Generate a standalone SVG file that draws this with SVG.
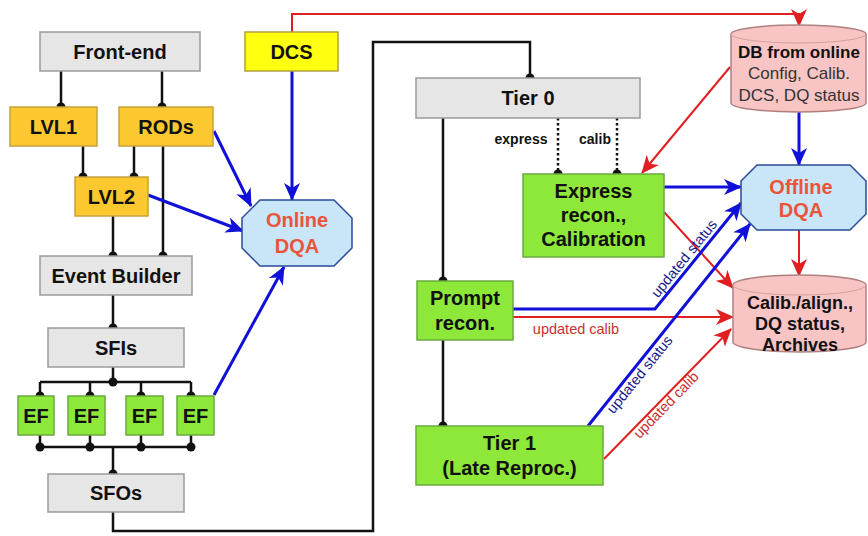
<svg xmlns="http://www.w3.org/2000/svg" width="868" height="536" viewBox="0 0 868 536">
<style>
text{font-family:"Liberation Sans",Arial,sans-serif}
.lbl{font-size:20px;font-weight:bold;fill:#111;text-anchor:middle}
.gray{fill:#e6e6e6;stroke:#9a9a9a;stroke-width:1.5}
.orange{fill:#fcc830;stroke:#c8a040;stroke-width:1.5}
.yellow{fill:#ffff10;stroke:#b0a040;stroke-width:1.5}
.green{fill:#8ee83a;stroke:#6aaa40;stroke-width:1.5}
.oct{fill:#c8e6f8;stroke:#2a4a9a;stroke-width:1.5}
.cyl{fill:#f8c4c4;stroke:#b08080;stroke-width:1.5}
.dqa{font-size:20px;font-weight:bold;fill:#e8553a;text-anchor:middle}
.blk{fill:none;stroke:#111;stroke-width:2.5}
.dot{fill:none;stroke:#111;stroke-width:2.5;stroke-dasharray:2.5,2.5}
.blue{fill:none;stroke:#1010d8;stroke-width:3}
.red{fill:none;stroke:#e02020;stroke-width:2}
.small{font-size:14px;font-weight:bold;fill:#111;text-anchor:middle}
.ublue{font-size:14.5px;fill:#1a1a8c;text-anchor:middle}
.ured{font-size:14.5px;fill:#c83030;text-anchor:middle}
</style>
<defs>
<marker id="hd" markerUnits="userSpaceOnUse" viewBox="-6 -6 12 12" markerWidth="12" markerHeight="12" refX="0" refY="0" orient="auto">
<path d="M0,-4.5 A4.5,4.5 0 0 0 0,4.5 Z" fill="#111"/>
</marker>
<marker id="ba" markerUnits="userSpaceOnUse" viewBox="0 0 18 16" markerWidth="18" markerHeight="16" refX="17" refY="8" orient="auto">
<path d="M0,0 L18,8 L0,16 L5,8 Z" fill="#1010d8"/>
</marker>
<marker id="ra" markerUnits="userSpaceOnUse" viewBox="0 0 18 16" markerWidth="18" markerHeight="16" refX="17" refY="8" orient="auto">
<path d="M0,0 L18,8 L0,16 L5,8 Z" fill="#e02020"/>
</marker>
</defs>

<g id="connectors">
<!-- black data flow -->
<path class="blk" d="M61,71 V107" marker-end="url(#hd)"/>
<path class="blk" d="M162,71 V107" marker-end="url(#hd)"/>
<path class="blk" d="M83,146 V177" marker-end="url(#hd)"/>
<path class="blk" d="M134,146 V177" marker-end="url(#hd)"/>
<path class="blk" d="M163,146 V256" marker-end="url(#hd)"/>
<path class="blk" d="M113,216 V256" marker-end="url(#hd)"/>
<path class="blk" d="M113,295 V328" marker-end="url(#hd)"/>
<path class="blk" d="M113,367 V382 M40,382 H191"/>
<circle cx="113" cy="382" r="4.5" fill="#111"/>
<path class="blk" d="M40,382 V396" marker-end="url(#hd)"/>
<path class="blk" d="M90,382 V396" marker-end="url(#hd)"/>
<path class="blk" d="M141,382 V396" marker-end="url(#hd)"/>
<path class="blk" d="M191,382 V396" marker-end="url(#hd)"/>
<path class="blk" d="M40,435 V447 M90,435 V447 M141,435 V447 M191,435 V447 M40,447 H191"/>
<circle cx="40" cy="447" r="4.5" fill="#111"/>
<circle cx="90" cy="447" r="4.5" fill="#111"/>
<circle cx="141" cy="447" r="4.5" fill="#111"/>
<circle cx="191" cy="447" r="4.5" fill="#111"/>
<path class="blk" d="M113,447 V474" marker-end="url(#hd)"/>
<path class="blk" d="M113,512 V531 H373 V42 H530 V78" marker-end="url(#hd)"/>
<path class="blk" d="M443,118 V281" marker-end="url(#hd)"/>
<path class="blk" d="M443,340 V426" marker-end="url(#hd)"/>
<path class="dot" d="M558,118 V174" marker-end="url(#hd)"/>
<path class="dot" d="M617,118 V174" marker-end="url(#hd)"/>
<text class="small" x="521" y="144">express</text>
<text class="small" x="595" y="144">calib</text>

<!-- blue to online DQA -->
<path class="blue" d="M214,131 L251,206" marker-end="url(#ba)"/>
<path class="blue" d="M148,195 L243,231" marker-end="url(#ba)"/>
<path class="blue" d="M292,71 V200" marker-end="url(#ba)"/>
<path class="blue" d="M214,395 L284,267" marker-end="url(#ba)"/>

<!-- DCS to DB -->
<path class="red" d="M292,32 V14 H799 V26" marker-end="url(#ra)"/>

<!-- right side -->
<path class="red" d="M730,67 L642,173" marker-end="url(#ra)"/>
<path class="blue" d="M799,112 V165" marker-end="url(#ba)"/>
<path class="red" d="M799,230 V276" marker-end="url(#ra)"/>
<path class="blue" d="M664,187 H741" marker-end="url(#ba)"/>
<path class="red" d="M664,212 L733,288" marker-end="url(#ra)"/>
<path class="blue" d="M513,309 H655 L741,203" marker-end="url(#ba)"/>
<path class="red" d="M513,317 H733" marker-end="url(#ra)"/>
<path class="blue" d="M588,426 L750,224" marker-end="url(#ba)"/>
<path class="red" d="M604,459 L731,329" marker-end="url(#ra)"/>

<text class="ublue" transform="translate(691,264) rotate(-51)" x="0" y="-4">updated status</text>
<text class="ublue" transform="translate(633,369) rotate(-51)" x="0" y="13.5">updated status</text>
<text class="ured" transform="translate(661,400) rotate(-45.7)" x="0" y="12">updated calib</text>
<text class="ured" x="576" y="334">updated calib</text>
</g>

<g id="frontend"><rect class="gray" x="40" y="32" width="160" height="39"/><text class="lbl" x="120" y="58.5">Front-end</text></g>
<g id="dcs"><rect class="yellow" x="245" y="32" width="93" height="39"/><text class="lbl" x="291.5" y="58.5">DCS</text></g>
<g id="lvl1"><rect class="orange" x="10" y="107" width="87" height="39"/><text class="lbl" x="53.5" y="133.5">LVL1</text></g>
<g id="rods"><rect class="orange" x="119" y="107" width="94" height="39"/><text class="lbl" x="166" y="133.5">RODs</text></g>
<g id="lvl2"><rect class="orange" x="75" y="177" width="73" height="39"/><text class="lbl" x="111.5" y="203.5">LVL2</text></g>
<g id="eventbuilder"><rect class="gray" x="40" y="256" width="152" height="39"/><text class="lbl" x="116" y="282.5">Event Builder</text></g>
<g id="sfis"><rect class="gray" x="48" y="328" width="136" height="39"/><text class="lbl" x="116" y="354.5">SFIs</text></g>
<g id="ef1"><rect class="green" x="18" y="396" width="36" height="39"/><text class="lbl" x="36" y="422.5">EF</text></g>
<g id="ef2"><rect class="green" x="68" y="396" width="37" height="39"/><text class="lbl" x="86.5" y="422.5">EF</text></g>
<g id="ef3"><rect class="green" x="126" y="396" width="37" height="39"/><text class="lbl" x="144.5" y="422.5">EF</text></g>
<g id="ef4"><rect class="green" x="177" y="396" width="37" height="39"/><text class="lbl" x="195.5" y="422.5">EF</text></g>
<g id="sfos"><rect class="gray" x="48" y="474" width="136" height="38"/><text class="lbl" x="116" y="500">SFOs</text></g>

<g id="onlinedqa"><path class="oct" d="M260,200 H334 L352,218 V248 L334,266 H260 L242,248 V218 Z"/><text class="dqa" x="297" y="227">Online</text><text class="dqa" x="297" y="253">DQA</text></g>

<g id="tier0"><rect class="gray" x="416" y="78" width="224" height="40"/><text class="lbl" x="528" y="105">Tier 0</text></g>
<g id="express"><rect class="green" x="523" y="174" width="141" height="83"/><text class="lbl" x="593.5" y="198">Express</text><text class="lbl" x="593.5" y="222">recon.,</text><text class="lbl" x="593.5" y="246">Calibration</text></g>
<g id="prompt"><rect class="green" x="417" y="281" width="96" height="59"/><text class="lbl" x="465" y="305">Prompt</text><text class="lbl" x="465" y="330">recon.</text></g>
<g id="tier1"><rect class="green" x="416" y="426" width="187" height="59"/><text class="lbl" x="509.5" y="450">Tier 1</text><text class="lbl" x="509.5" y="475">(Late Reproc.)</text></g>

<g id="dbonline"><path class="cyl" d="M731,34 A67.5,9 0 0 1 866,34 V103 A67.5,9 0 0 1 731,103 Z"/><path d="M731,34 A67.5,9 0 0 0 866,34" fill="none" stroke="#d8a0a0" stroke-width="1"/>
<text x="799" y="58" style="font-size:17px;font-weight:bold;fill:#111;text-anchor:middle">DB from online</text>
<text x="799" y="79" style="font-size:17px;fill:#333;text-anchor:middle">Config, Calib.</text>
<text x="799" y="101" style="font-size:17px;fill:#333;text-anchor:middle">DCS, DQ status</text></g>

<g id="offlinedqa"><path class="oct" d="M757,165 H850 L866,181 V214 L850,230 H757 L741,214 V181 Z"/><text class="dqa" x="801" y="194">Offline</text><text class="dqa" x="801" y="217">DQA</text></g>

<g id="calibarchive"><path class="cyl" d="M733,285 A66.5,10 0 0 1 866,285 V342 A66.5,10 0 0 1 733,342 Z"/><path d="M733,285 A66.5,10 0 0 0 866,285" fill="none" stroke="#d8a0a0" stroke-width="1"/>
<text class="lbl" x="800" y="309" style="font-size:18px">Calib./align.,</text>
<text class="lbl" x="800" y="330" style="font-size:18px">DQ status,</text>
<text class="lbl" x="800" y="351" style="font-size:18px">Archives</text></g>
</svg>
